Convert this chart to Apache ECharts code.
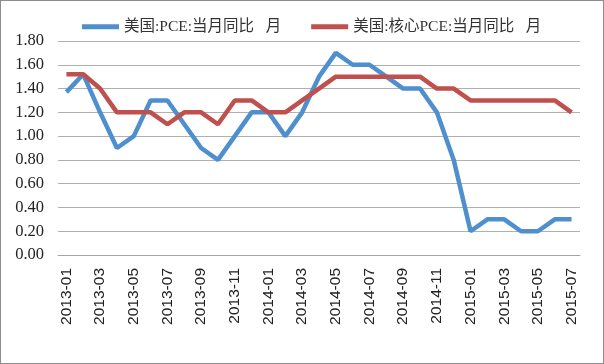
<!DOCTYPE html>
<html><head><meta charset="utf-8">
<script src="https://cdn.jsdelivr.net/npm/echarts@6/dist/echarts.min.js"></script>
<style>html,body{margin:0;padding:0;background:#fff}#c{width:604px;height:364px;box-sizing:border-box;border:1px solid #8c8c8c}</style>
</head><body><div id="c"></div>
<script>
var categories = ['2013-01','2013-02','2013-03','2013-04','2013-05','2013-06','2013-07','2013-08','2013-09','2013-10','2013-11','2013-12',
'2014-01','2014-02','2014-03','2014-04','2014-05','2014-06','2014-07','2014-08','2014-09','2014-10','2014-11','2014-12',
'2015-01','2015-02','2015-03','2015-04','2015-05','2015-06','2015-07'];
var pceName = '美国:PCE:当月同比   月';
var corePceName = '美国:核心PCE:当月同比   月';
var pce = [1.37,1.52,1.20,0.90,1.00,1.30,1.30,1.10,0.90,0.80,1.00,1.20,
1.20,1.00,1.20,1.50,1.70,1.60,1.60,1.50,1.40,1.40,1.20,0.80,
0.20,0.30,0.30,0.20,0.20,0.30,0.30];
var corePce = [1.52,1.52,1.40,1.20,1.20,1.20,1.10,1.20,1.20,1.10,1.30,1.30,
1.20,1.20,1.30,1.40,1.50,1.50,1.50,1.50,1.50,1.50,1.40,1.40,
1.30,1.30,1.30,1.30,1.30,1.30,1.20];
var yTicks = {min:0, max:1.8, interval:0.2};

var chart = echarts.init(document.getElementById('c'));
chart.setOption({
  animation:false,
  color:['#4E8FCE','#C0504D'],
  legend:{
    top:13, left:76, itemWidth:37, itemHeight:5, itemGap:30,
    icon:'rect',
    textStyle:{fontFamily:"'Liberation Serif','Noto Sans CJK SC'", fontSize:15.5, color:'#333'},
    data:[pceName, corePceName]
  },
  grid:{left:57, right:23, top:40, bottom:108, containLabel:false},
  xAxis:{
    type:'category', data:categories, boundaryGap:true,
    axisLine:{lineStyle:{color:'#a6a6a6', width:1}},
    axisTick:{show:false},
    axisLabel:{rotate:90, interval:1, margin:13, fontFamily:'Liberation Sans', fontSize:15.5, color:'#222'}
  },
  yAxis:{
    type:'value', min:yTicks.min, max:yTicks.max, interval:yTicks.interval,
    axisLine:{show:false}, axisTick:{show:false},
    splitLine:{lineStyle:{color:'#b0b0b0', width:1}},
    axisLabel:{formatter:function(v){return v.toFixed(2);}, margin:14, fontFamily:'Liberation Serif', fontSize:16.5, color:'#222'}
  },
  series:[
    {name:pceName, type:'line', data:pce, symbol:'none', lineStyle:{width:4.5}},
    {name:corePceName, type:'line', data:corePce, symbol:'none', lineStyle:{width:4.5}}
  ]
});
</script></body></html>
